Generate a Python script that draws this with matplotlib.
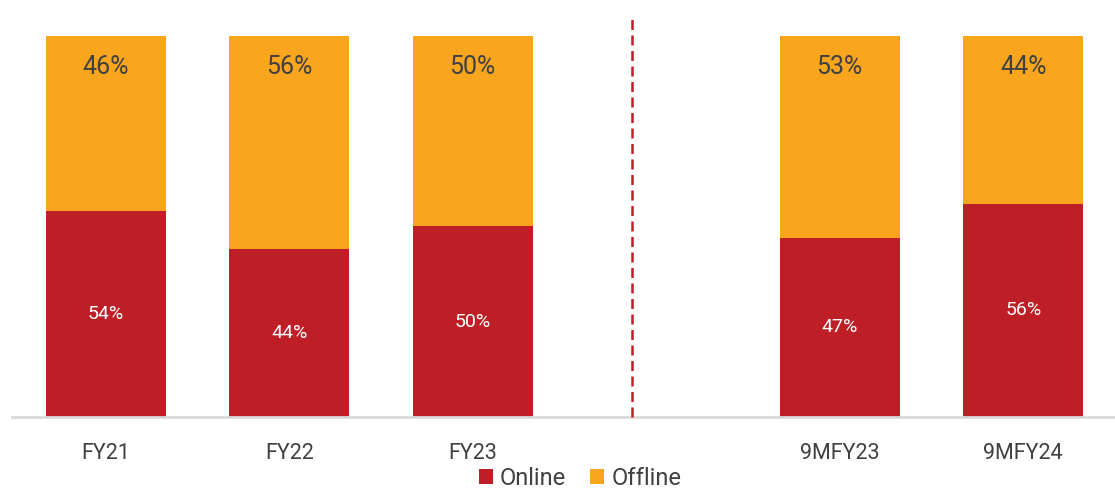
import matplotlib
matplotlib.use("Agg")
import matplotlib.pyplot as plt
from matplotlib.patches import Patch

categories = ["FY21", "FY22", "FY23", "9MFY23", "9MFY24"]
positions = [0, 1, 2, 4, 5]
online = [54, 44, 50, 47, 56]
offline = [46, 56, 50, 53, 44]
divider_x = 2.87

RED = "#BE1F26"
ORANGE = "#F9A61E"
TXT = "#404040"

plt.rcParams['font.family'] = ['Roboto', 'DejaVu Sans']

W, H = 1115, 498
fig = plt.figure(figsize=(W / 100, H / 100), dpi=100)
ax = fig.add_axes([12 / W, (H - 417) / H, (W - 12) / W, 381 / H])

ax.bar(positions, online, width=0.654, color=RED, zorder=2)
ax.bar(positions, offline, bottom=online, width=0.654, color=ORANGE, zorder=2)

for x, on, off in zip(positions, online, offline):
    ax.text(x, on / 2, f"{on}%", ha="center", va="center", color="white", fontsize=14)
    ax.text(x, 100 - 8.2, f"{off}%", ha="center", va="center", color=TXT, fontsize=18)

ax.plot([divider_x, divider_x], [0, 105.2], color=RED, lw=1.8,
        linestyle=(0, (4, 2.2)), clip_on=False, zorder=3)

ax.set_xlim(-0.51, 5.5)
ax.set_ylim(0, 100)
ax.set_xticks(positions)
ax.set_xticklabels(categories, fontsize=15.5, color=TXT)
ax.tick_params(axis="x", length=0, pad=19)
ax.set_yticks([])
for s in ["top", "right", "left"]:
    ax.spines[s].set_visible(False)
ax.spines["bottom"].set_color("#d9d9d9")
ax.spines["bottom"].set_linewidth(2)

handles = [Patch(facecolor=RED, label="Online"), Patch(facecolor=ORANGE, label="Offline")]
fig.legend(handles=handles, loc="center", bbox_to_anchor=(580 / W, (H - 478) / H),
           ncol=2, frameon=False, fontsize=17, handlelength=0.6, handleheight=0.6,
           handletextpad=0.3, columnspacing=1.0, labelcolor=TXT)

fig.savefig("out.png", dpi=100, facecolor="white")
